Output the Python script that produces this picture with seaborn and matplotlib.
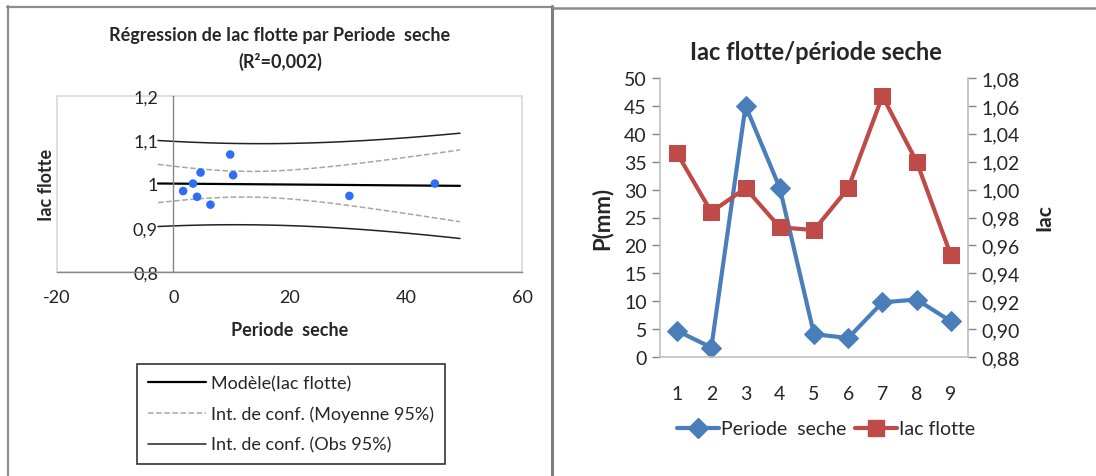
import numpy as np
import pandas as pd
import seaborn as sns
import matplotlib.pyplot as plt
from matplotlib.lines import Line2D
from matplotlib.ticker import FuncFormatter, MultipleLocator, FixedLocator

# data
periods = [1, 2, 3, 4, 5, 6, 7, 8, 9]
periode_seche = [4.7, 1.7, 45.0, 30.3, 4.1, 3.4, 9.8, 10.3, 6.4]
iac_flotte = [1.026, 0.984, 1.001, 0.973, 0.971, 1.001, 1.067, 1.020, 0.953]

BLUE = "#4a7ebb"
RED = "#be4b48"
DOT = "#2f6df6"
AXIS = "#868686"

sns.set_style("white")
plt.rcParams["font.family"] = ["Lato", "DejaVu Sans"]
plt.rcParams["axes.unicode_minus"] = False

W, H = 1096, 477
fig = plt.figure(figsize=(W / 100, H / 100), dpi=100)


def box(x0, y0, x1, y1):
    # pixel box (top-left origin) -> figure fraction rect
    return [x0 / W, 1 - y1 / H, (x1 - x0) / W, (y1 - y0) / H]


def comma(fmt):
    return FuncFormatter(lambda v, pos: format(v, fmt).replace(".", ","))


# ---------------- left: regression ----------------
df = pd.DataFrame({"Periode  seche": periode_seche, "Iac flotte": iac_flotte})
x = np.array(periode_seche)
y = np.array(iac_flotte)
n = len(x)
slope, intercept = np.polyfit(x, y, 1)
resid = y - (slope * x + intercept)
s = np.sqrt(np.sum(resid ** 2) / (n - 2))
t975 = 2.365  # Student t, 7 dof
span = x.max() - x.min()
xs = np.linspace(x.min() - 0.1 * span, x.max() + 0.1 * span, 80)
fit = slope * xs + intercept
sxx = np.sum((x - x.mean()) ** 2)
half_mean = t975 * s * np.sqrt(1 / n + (xs - x.mean()) ** 2 / sxx)
half_obs = t975 * s * np.sqrt(1 + 1 / n + (xs - x.mean()) ** 2 / sxx)

ax1 = fig.add_axes(box(57, 97, 522, 273))
sns.lineplot(x=xs, y=fit, ax=ax1, color="black", lw=1.6, sort=False)
sns.lineplot(x=xs, y=fit + half_mean, ax=ax1, color="#a6a6a6", lw=1.1, ls="--", sort=False)
sns.lineplot(x=xs, y=fit - half_mean, ax=ax1, color="#a6a6a6", lw=1.1, ls="--", sort=False)
sns.lineplot(x=xs, y=fit + half_obs, ax=ax1, color="#222222", lw=1.1, sort=False)
sns.lineplot(x=xs, y=fit - half_obs, ax=ax1, color="#222222", lw=1.1, sort=False)
sns.scatterplot(data=df, x="Periode  seche", y="Iac flotte", ax=ax1, color=DOT,
                s=38, edgecolor="none", zorder=5)

ax1.set_xlim(-20, 60)
ax1.set_ylim(0.8, 1.2)
ax1.xaxis.set_major_locator(MultipleLocator(20))
ax1.yaxis.set_major_locator(MultipleLocator(0.1))
ax1.yaxis.set_major_formatter(comma("g"))
ax1.spines["left"].set_position(("data", 0))
for side in ["left", "bottom"]:
    ax1.spines[side].set_color(AXIS)
    ax1.spines[side].set_linewidth(1)
for side in ["top", "right"]:
    ax1.spines[side].set_visible(False)
ax1.patch.set_edgecolor("#d9d9d9")
ax1.patch.set_linewidth(1.2)
ax1.tick_params(axis="both", colors=AXIS, labelcolor="#222222", labelsize=13,
                direction="inout", length=8, width=1)
ax1.tick_params(axis="x", pad=8)
ax1.tick_params(axis="y", pad=7)
ax1.set_xlabel("Periode  seche", fontsize=13, fontweight="bold", labelpad=12)
ax1.set_ylabel("")
fig.text(46 / W, 1 - 185 / H, "Iac flotte", rotation=90, ha="center", va="center",
         fontsize=13, fontweight="bold")
fig.text(280 / W, 1 - 35 / H, "Régression de Iac flotte par Periode  seche",
         ha="center", va="center", fontsize=13, fontweight="bold")
fig.text(280 / W, 1 - 62 / H, "(R²=0,002)", ha="center", va="center",
         fontsize=13, fontweight="bold")

handles1 = [Line2D([], [], color="black", lw=1.6),
            Line2D([], [], color="#a6a6a6", lw=1.1, ls="--"),
            Line2D([], [], color="#222222", lw=1.1)]
labels1 = ["Modèle(Iac flotte)", "Int. de conf. (Moyenne 95%)", "Int. de conf. (Obs 95%)"]
leg1 = fig.legend(handles1, labels1, loc="center", bbox_to_anchor=(291 / W, 1 - 415 / H),
                  fontsize=13, frameon=True, fancybox=False, edgecolor="black",
                  handlelength=3.2, handletextpad=0.3, labelspacing=0.8,
                  borderpad=0.6)
leg1.get_frame().set_linewidth(1.2)

# ---------------- right: two series over time ----------------
ax2 = fig.add_axes(box(660, 79, 968, 358))
sns.lineplot(x=periods, y=periode_seche, ax=ax2, color=BLUE, lw=3, marker="D",
             markersize=10, markeredgecolor=BLUE)
ax2.set_xlim(0.5, 9.5)
ax2.set_ylim(0, 50)
ax2.yaxis.set_major_locator(MultipleLocator(5))
ax2.xaxis.set_major_locator(FixedLocator(periods))
ax2.xaxis.set_minor_locator(MultipleLocator(1, offset=0.5))
ax2.tick_params(axis="x", which="major", length=0, pad=20, labelsize=14)
ax2.tick_params(axis="x", which="minor", length=7, width=1, color=AXIS, direction="out")
ax2.tick_params(axis="y", length=6, width=1, color=AXIS, direction="out", labelsize=14)

ax3 = ax2.twinx()
sns.lineplot(x=periods, y=iac_flotte, ax=ax3, color=RED, lw=3, marker="s",
             markersize=11, markeredgecolor=RED)
ax3.set_ylim(0.88, 1.08)
ax3.yaxis.set_major_locator(MultipleLocator(0.02))
ax3.yaxis.set_major_formatter(comma(".2f"))
ax3.tick_params(axis="y", length=6, width=1, color=AXIS, direction="out", labelsize=14)

for a in (ax2, ax3):
    a.set_xlabel("")
    a.set_ylabel("")
    a.spines["top"].set_visible(False)
    for side in ["left", "right", "bottom"]:
        a.spines[side].set_color("#bfbfbf")
        a.spines[side].set_linewidth(1.2)
ax2.spines["right"].set_visible(False)
ax3.spines["left"].set_visible(False)
ax3.spines["bottom"].set_visible(False)

fig.text(816 / W, 1 - 52 / H, "Iac flotte/période seche", ha="center", va="center",
         fontsize=17, fontweight="bold")
fig.text(602 / W, 1 - 218 / H, "P(mm)", rotation=90, ha="center", va="center",
         fontsize=16, fontweight="bold")
fig.text(1044 / W, 1 - 218 / H, "Iac", rotation=90, ha="center", va="center",
         fontsize=15, fontweight="bold")

handles2 = [Line2D([], [], color=BLUE, lw=3, marker="D", markersize=10),
            Line2D([], [], color=RED, lw=3, marker="s", markersize=11)]
fig.legend(handles2, ["Periode  seche", "Iac flotte"], loc="center",
           bbox_to_anchor=(826 / W, 1 - 430 / H), ncol=2, frameon=False,
           fontsize=14, handlelength=2.2, handletextpad=0.1, columnspacing=0.4)


# panel frames
def hline(y0, x0, x1, lw, c="#8c8c8c"):
    fig.add_artist(Line2D([x0 / W, x1 / W], [1 - y0 / H, 1 - y0 / H], color=c, lw=lw))


def vline(x0, y0, y1, lw, c="#8c8c8c"):
    fig.add_artist(Line2D([x0 / W, x0 / W], [1 - y0 / H, 1 - y1 / H], color=c, lw=lw))


hline(7.5, 7, 552, 1.6)
vline(7.5, 7, H, 1.6)
vline(552, 7, H, 2.2, "#7f7f7f")
hline(9, 553, W, 1.8)

fig.savefig("out.png", dpi=100)
